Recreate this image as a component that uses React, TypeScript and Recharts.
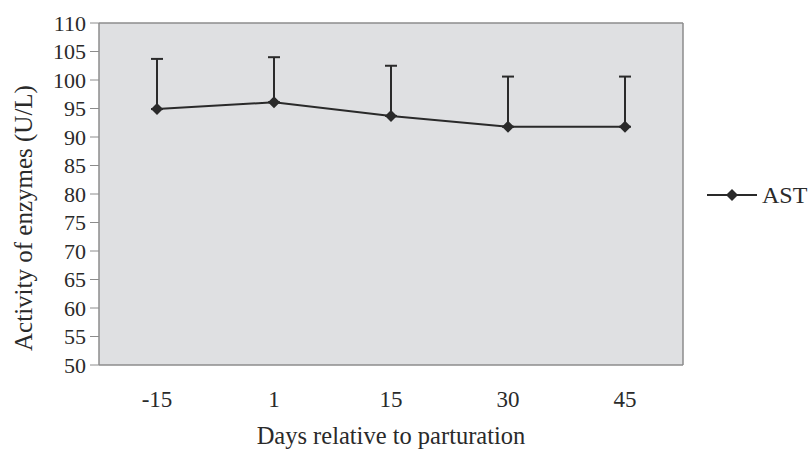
import React from 'react';
import { LineChart, Line, XAxis, YAxis, ErrorBar, CartesianGrid, Legend, Label } from 'recharts';

const days = ['-15', '1', '15', '30', '45'];
const astMean = [94.9, 96.1, 93.7, 91.8, 91.8];
const astSd = [8.8, 7.9, 8.8, 8.8, 8.8];
const yTicks = [50, 55, 60, 65, 70, 75, 80, 85, 90, 95, 100, 105, 110];

const data = days.map((d, i) => ({ day: d, ast: astMean[i], err: [0, astSd[i]] }));

const FONT = '"Liberation Serif", "DejaVu Serif", serif';
const INK = '#2a2a2a';
const AXIS = '#8c8c8c';

function Diamond(props: any) {
  const { cx, cy } = props;
  if (cx == null || cy == null) return null;
  const s = 6;
  return (
    <polygon
      points={`${cx},${cy - s} ${cx + s},${cy} ${cx},${cy + s} ${cx - s},${cy}`}
      fill={INK}
    />
  );
}

function LegendBox() {
  return (
    <svg width={110} height={32}>
      <line x1={3} y1={15} x2={53} y2={15} stroke={INK} strokeWidth={2} />
      <polygon points="28,9 34,15 28,21 22,15" fill={INK} />
      <text x={58} y={23} fontFamily={FONT} fontSize={24} fill={INK}>AST</text>
    </svg>
  );
}

export default function App() {
  return (
    <div style={{ position: 'absolute', left: 0, top: 0, width: 809, height: 450, background: '#fff' }}>
      <LineChart width={809} height={450} data={data} margin={{ top: 23, right: 126, bottom: 0, left: 0 }}>
        {/* plot background with a frame on top and right edges */}
        <CartesianGrid
          fill="#dfe0e2"
          fillOpacity={1}
          stroke={AXIS}
          strokeWidth={1.5}
          horizontalCoordinatesGenerator={({ offset }: any) => [offset.top]}
          verticalCoordinatesGenerator={({ offset }: any) => [offset.left + offset.width]}
        />
        <XAxis
          dataKey="day"
          height={85}
          padding={{ left: 58, right: 58 }}
          axisLine={{ stroke: AXIS, strokeWidth: 1.5 }}
          tickLine={false}
          tick={{ fill: INK, fontSize: 23, fontFamily: FONT }}
          dy={18}
        >
          <Label
            content={(p: any) => {
              const vb = p.viewBox || {};
              return (
                <text
                  x={vb.x + vb.width / 2}
                  y={vb.y + vb.height - 6}
                  textAnchor="middle"
                  fill={INK}
                  fontSize={24.5}
                  fontFamily={FONT}
                >
                  Days relative to parturation
                </text>
              );
            }}
          />
        </XAxis>
        <YAxis
          type="number"
          domain={[50, 110]}
          ticks={yTicks}
          interval={0}
          width={99}
          axisLine={{ stroke: AXIS, strokeWidth: 1.5 }}
          tickLine={{ stroke: AXIS }}
          tickSize={9}
          tickMargin={4}
          tick={{ fill: INK, fontSize: 22, fontFamily: FONT }}
        >
          <Label
            content={() => (
              <text
                transform="translate(32,218) rotate(-90)"
                textAnchor="middle"
                fill={INK}
                fontSize={25}
                fontFamily={FONT}
              >
                Activity of enzymes (U/L)
              </text>
            )}
          />
        </YAxis>
        <Line
          dataKey="ast"
          name="AST"
          stroke={INK}
          strokeWidth={2}
          dot={<Diamond />}
          activeDot={false}
          isAnimationActive={false}
        >
          <ErrorBar dataKey="err" direction="y" width={6} stroke={INK} strokeWidth={2} />
        </Line>
        <Legend
          layout="vertical"
          align="center"
          verticalAlign="middle"
          content={() => <LegendBox />}
          wrapperStyle={{ left: 704, top: 180, width: 110 }}
        />
      </LineChart>
    </div>
  );
}
